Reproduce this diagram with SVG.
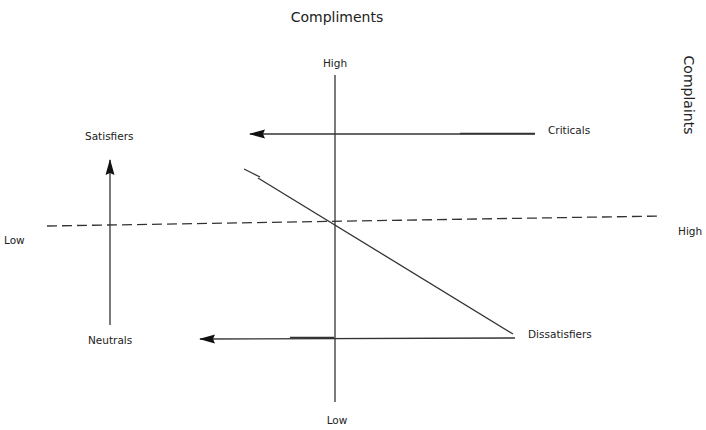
<svg xmlns="http://www.w3.org/2000/svg" width="706" height="430" viewBox="0 0 706 430">
<style>
text{font-family:"DejaVu Sans","Liberation Sans",sans-serif;fill:#222}
.lbl{font-size:10.5px}
.ttl{font-size:14px}
.ln{stroke:#333;stroke-width:1.3;fill:none}
</style>
<defs>
<marker id="ah" viewBox="0 0 16 10" refX="15" refY="5" markerWidth="16" markerHeight="10" markerUnits="userSpaceOnUse" orient="auto">
<path d="M0,0.5 L16,5 L0,9.5 L2,5 Z" fill="#111"/>
</marker>
</defs>
<rect width="706" height="430" fill="#fff"/>
<g id="axes">
<line class="ln" x1="335" y1="75" x2="335" y2="402" stroke="#555"/>
<line class="ln" x1="47" y1="226" x2="662" y2="216" stroke-dasharray="10,5" stroke-width="1.8"/>
</g>
<g id="title-compliments"><text class="ttl" x="337" y="22" text-anchor="middle">Compliments</text></g>
<g id="title-complaints"><text class="ttl" transform="translate(684,95) rotate(90)" text-anchor="middle">Complaints</text></g>
<g id="high-top"><text class="lbl" x="335" y="67" text-anchor="middle">High</text></g>
<g id="low-bottom"><text class="lbl" x="337" y="424" text-anchor="middle">Low</text></g>
<g id="low-left"><text class="lbl" x="4" y="244">Low</text></g>
<g id="high-right"><text class="lbl" x="678" y="235">High</text></g>
<g id="satisfiers"><text class="lbl" x="85" y="140">Satisfiers</text></g>
<g id="criticals"><text class="lbl" x="548" y="134">Criticals</text></g>
<g id="neutrals"><text class="lbl" x="88" y="344">Neutrals</text></g>
<g id="dissatisfiers"><text class="lbl" x="528" y="338">Dissatisfiers</text></g>
<g id="connectors">
<line class="ln" x1="535" y1="134" x2="250" y2="134" marker-end="url(#ah)"/>
<line class="ln" x1="460" y1="133.5" x2="535" y2="133.5" stroke-width="2.2"/>
<line class="ln" x1="515" y1="338" x2="200" y2="339" marker-end="url(#ah)"/>
<line class="ln" x1="290" y1="337.5" x2="334" y2="337.5" stroke-width="2.2"/>
<line class="ln" x1="110" y1="325" x2="110" y2="160" marker-end="url(#ah)"/>
<line class="ln" x1="513" y1="334" x2="258" y2="178"/>
<path class="ln" d="M244,169 L252,173 L260,177" stroke-width="2"/>
</g>
</svg>
